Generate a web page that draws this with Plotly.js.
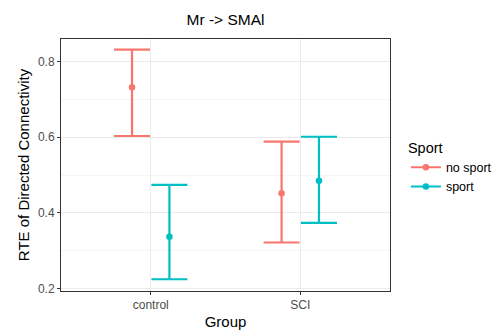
<!DOCTYPE html>
<html>
<head>
<meta charset="utf-8">
<script src="https://cdn.plot.ly/plotly-3.0.1.min.js"></script>
<style>html,body{margin:0;padding:0;background:#fff}#chart{width:492px;height:333px}</style>
</head>
<body>
<div id="chart"></div>
<script>
var groups = ["control", "SCI"];
var sportLevels = ["no sport", "sport"];
var colors = ["#F8766D", "#00BFC4"];
// mean, lower, upper per group for each sport level
var noSportMean = [0.732, 0.452];
var noSportLower = [0.603, 0.322];
var noSportUpper = [0.831, 0.588];
var sportMean = [0.337, 0.485];
var sportLower = [0.225, 0.374];
var sportUpper = [0.474, 0.601];

var dodge = 0.125;
function makeTrace(name, mean, lower, upper, color, offset) {
  var x = [], y = [], ep = [], em = [];
  for (var i = 0; i < groups.length; i++) {
    if (i > 0) { x.push(null); y.push(null); ep.push(null); em.push(null); }
    x.push(i + offset); y.push(mean[i]);
    ep.push(upper[i] - mean[i]); em.push(mean[i] - lower[i]);
  }
  return {
    type: "scatter", mode: "lines+markers", name: name,
    x: x, y: y, connectgaps: false,
    marker: {color: color, size: 6.5},
    line: {color: color, width: 2},
    error_y: {type: "data", symmetric: false, array: ep, arrayminus: em,
      color: color, thickness: 2.2, width: 18}
  };
}
var data = [
  makeTrace(sportLevels[0], noSportMean, noSportLower, noSportUpper, colors[0], -dodge),
  makeTrace(sportLevels[1], sportMean, sportLower, sportUpper, colors[1], dodge)
];
var layout = {
  width: 492, height: 333,
  margin: {l: 61, r: 102, t: 39, b: 42},
  paper_bgcolor: "#fff", plot_bgcolor: "#fff",
  font: {family: "Liberation Sans, Arial, sans-serif", color: "#000"},
  title: {text: "Mr -> SMAl", xref: "paper", x: 0.5, xanchor: "center", y: 0.94, yanchor: "middle",
    font: {size: 15.5, color: "#000"}},
  xaxis: {
    range: [-0.6, 1.6], tickvals: [0, 1], ticktext: groups,
    showgrid: true, gridcolor: "#EBEBEB", gridwidth: 1,
    zeroline: false, showline: true, mirror: true, linecolor: "#333333", linewidth: 1,
    ticks: "outside", ticklen: 3, tickcolor: "#333333",
    tickfont: {size: 12, color: "#4D4D4D"},
    title: {text: "Group", font: {size: 15, color: "#000"}, standoff: 5}
  },
  yaxis: {
    range: [0.194, 0.859], tickvals: [0.2, 0.4, 0.6, 0.8], ticktext: ["0.2", "0.4", "0.6", "0.8"],
    showgrid: true, gridcolor: "#EBEBEB", gridwidth: 1,
    minor: {tickvals: [0.3, 0.5, 0.7], showgrid: true, gridcolor: "#F5F5F5", gridwidth: 1},
    zeroline: false, showline: true, mirror: true, linecolor: "#333333", linewidth: 1,
    ticks: "outside", ticklen: 3, tickcolor: "#333333",
    tickfont: {size: 12, color: "#4D4D4D"},
    title: {text: "RTE of Directed Connectivity", font: {size: 15, color: "#000"}, standoff: 4}
  },
  showlegend: true,
  legend: {
    xref: "container", yref: "container",
    x: 0.825, xanchor: "left", y: 0.496, yanchor: "middle",
    font: {size: 12.5, color: "#000"},
    title: {text: "Sport", font: {size: 14.5, color: "#000"}},
    itemwidth: 30, bgcolor: "rgba(0,0,0,0)"
  }
};
Plotly.newPlot("chart", data, layout, {displayModeBar: false, staticPlot: true});
</script>
</body>
</html>
